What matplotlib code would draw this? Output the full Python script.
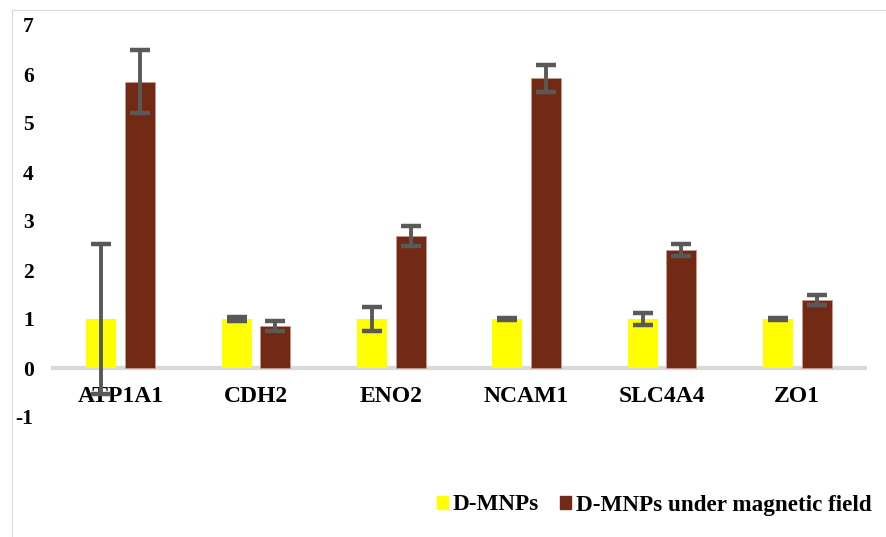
import numpy as np
import matplotlib.pyplot as plt
from matplotlib.patches import Patch, Rectangle

genes = ["ATP1A1", "CDH2", "ENO2", "NCAM1", "SLC4A4", "ZO1"]
dmnp = [1.0, 1.0, 1.0, 1.0, 1.0, 1.0]
dmnp_err = [1.53, 0.04, 0.25, 0.03, 0.13, 0.03]
dmnp_mag = [5.84, 0.86, 2.69, 5.91, 2.41, 1.39]
dmnp_mag_err = [0.64, 0.10, 0.20, 0.27, 0.12, 0.11]

plt.rcParams['font.family'] = ['Liberation Serif', 'DejaVu Serif']
plt.rcParams['font.weight'] = 'bold'
plt.rcParams['axes.unicode_minus'] = False

fig = plt.figure(figsize=(8.86, 5.37), dpi=100)
ax = fig.add_axes([53/886, 1-417/537, (865-53)/886, (417-25)/537])

# outer chart frame (top and left edges visible)
fig.patches.append(Rectangle((12/886, -0.2), 1.2, 1.2 - 10/537,
                             transform=fig.transFigure, fill=False,
                             edgecolor="#d9d9d9", linewidth=0.8))

x = np.arange(len(genes))
w = 0.222
off = 0.143
err_kw = dict(ecolor="#595959", elinewidth=2.8, capsize=7, capthick=3.2)
ax.bar(x - off, dmnp, w, color="#ffff00", yerr=dmnp_err, error_kw=err_kw,
       label="D-MNPs", zorder=2)
ax.bar(x + off, dmnp_mag, w, color="#722a14", edgecolor="#c89a90", linewidth=0.6,
       yerr=dmnp_mag_err, error_kw=err_kw, label="D-MNPs under magnetic field", zorder=2)

ax.set_xlim(-0.5, len(genes) - 0.5)
ax.set_ylim(-1, 7)
ax.set_yticks(range(-1, 8))
ax.tick_params(axis='y', length=0, pad=14, labelsize=15.5)
ax.tick_params(axis='x', length=0, pad=13, labelsize=17)
ax.set_xticks(x)
ax.set_xticklabels(genes)

for s in ['top', 'right', 'left']:
    ax.spines[s].set_visible(False)
ax.spines['bottom'].set_position(('data', 0))
ax.spines['bottom'].set_color("#d9d9d9")
ax.spines['bottom'].set_linewidth(3)
ax.spines['bottom'].set_zorder(1)

handles = [Patch(color="#ffff00", label="D-MNPs"),
           Patch(color="#722a14", label="D-MNPs under magnetic field")]
fig.legend(handles=handles, loc='center right', bbox_to_anchor=(881/886, 1-505/537),
           ncol=2, frameon=False, fontsize=16.7, handlelength=0.5, handleheight=0.5,
           handletextpad=0.2, columnspacing=0.9, borderaxespad=0)

fig.savefig("out.png", dpi=100)
